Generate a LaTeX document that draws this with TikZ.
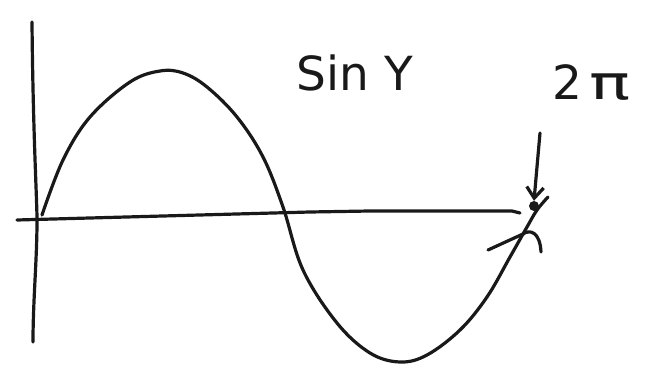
\documentclass[tikz,border=0pt]{standalone}
\usepackage{fontspec}
\setmainfont{DejaVu Sans}
\usetikzlibrary{arrows.meta}
\begin{document}
\begin{tikzpicture}[x=1pt,y=-1pt,
  pen/.style={line width=3.2pt,line cap=round,line join=round,black!90},
  lbl/.style={font=\fontsize{47}{52}\selectfont,inner sep=0pt,black!90}]
\useasboundingbox (0,0) rectangle (654,371);
% axes
\coordinate (vtop) at (32,22);
\coordinate (vbot) at (33,342);
\coordinate (hleft) at (17,220);
\coordinate (hright) at (520,213);
\draw[pen] (vtop) .. controls (33,133) and (37,200) .. (37,220) .. controls (37,260) and (33,300) .. (vbot);
\draw[pen] (hleft) -- (163,216) -- (310,212) -- (370,211) -- (512,211) -- (hright);
% sine curve
\draw[pen] plot[smooth,tension=0.6] coordinates {(42,215) (63,160) (90,117) (130,82) (160,71) (183,73) (207,87) (237,117) (263,157) (283,207) (303,270) (337,323) (370,353) (400,362) (427,355) (460,330) (487,297) (510,257) (527,227) (537,210) (548,197)};
% marked point
\node[circle,fill=black!90,minimum size=10pt,inner sep=0pt] (dot) at (534,206) {};
% small tick with arc
\coordinate (tk1) at (488,250);
\coordinate (tk2) at (523,234);
\coordinate (tk3) at (541,252);
\draw[pen] (tk1) -- (tk2) .. controls (530,229) and (540,232) .. (tk3);
% labels
\node[lbl,anchor=west] (siny) at (296,73) {Sin\,\,Y};
\node[lbl,anchor=west] (twopi) at (552,83) {2\,\scalebox{1.45}[1]{π}};
% arrow
\coordinate (astart) at (540,133);
\draw[pen,-{Straight Barb[length=11pt,width=17pt]}] (astart) -- (dot.north);
\end{tikzpicture}
\end{document}
